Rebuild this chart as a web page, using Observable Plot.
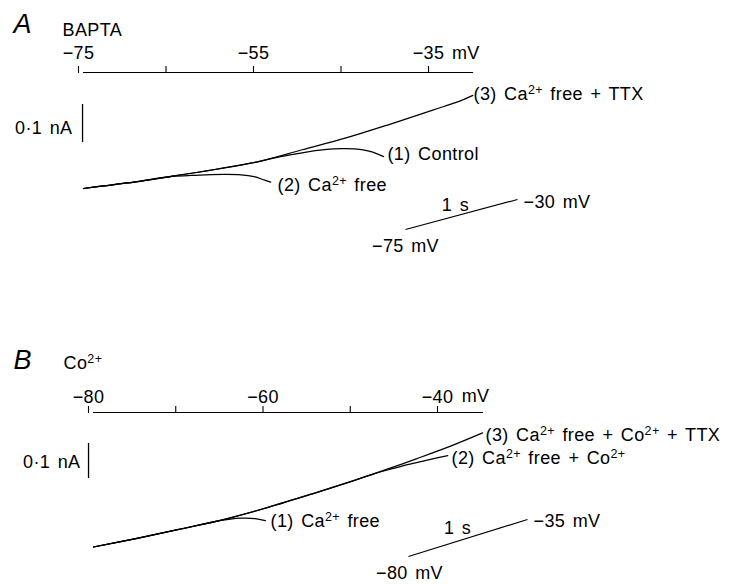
<!DOCTYPE html>
<html><head><meta charset="utf-8">
<script src="https://cdn.jsdelivr.net/npm/d3@7"></script>
<script src="https://cdn.jsdelivr.net/npm/@observablehq/plot@0.6"></script>
<style>
html,body{margin:0;padding:0;background:#fff;}
#wrap{position:relative;width:735px;height:585px;overflow:hidden;background:#fff;}
#wrap svg{position:absolute;left:0;overflow:visible;}
</style></head><body><div id="wrap"></div>
<script>
// ---------- Panel A (BAPTA) ----------
const ticksA = [-75, -65, -55, -45, -35];
const tickLabelsA = ["−75", "", "−55", "", "−35"];
// trace (3) Ca2+ free + TTX
const a3V = [-75, -70, -65, -60, -55, -50, -45, -40, -35, -32, -30.5];
const a3I = [0, 0.0145, 0.0316, 0.050, 0.071, 0.102, 0.133, 0.169, 0.207, 0.230, 0.245];
// trace (1) Control
const a1V = [-75, -70, -65, -60, -55, -52.5, -50, -47.5, -45.5, -44, -42.5, -41.5, -40.7];
const a1I = [0, 0.0145, 0.0316, 0.050, 0.071, 0.084, 0.094, 0.102, 0.105, 0.104, 0.099, 0.092, 0.084];
// trace (2) Ca2+ free
const a2V = [-75, -70, -65, -63, -61, -59, -57, -55.5, -54.3, -53.6];
const a2I = [0, 0.0145, 0.0316, 0.034, 0.036, 0.037, 0.036, 0.031, 0.022, 0.017];
const labelsA = ["(3) Ca{2+} free + TTX", "(1) Control", "(2) Ca{2+} free"];
const labelVA = [-30.43, -40.26, -52.83];
const labelIA = [0.2316, 0.0737, -0.0053];

// ---------- Panel B (Co2+) ----------
const ticksB = [-80, -70, -60, -50, -40];
const tickLabelsB = ["−80", "", "−60", "", "−40"];
// trace (3) Ca2+ free + Co2+ + TTX
const b3V = [-80, -75, -70, -65, -60, -55, -50, -46, -43, -39, -35.4];
const b3I = [0, 0.024, 0.050, 0.077, 0.110, 0.147, 0.186, 0.219, 0.245, 0.281, 0.317];
// trace (2) Ca2+ free + Co2+
const b2V = [-80, -75, -70, -65, -60, -55, -50, -48, -46, -44, -42, -40.5, -39.4];
const b2I = [0, 0.024, 0.050, 0.077, 0.110, 0.147, 0.186, 0.202, 0.216, 0.229, 0.240, 0.248, 0.254];
// trace (1) Ca2+ free
const b1V = [-80, -75, -70, -66, -64.5, -63, -61.5, -60.3];
const b1I = [0, 0.024, 0.050, 0.071, 0.077, 0.080, 0.079, 0.073];
const labelsB = ["(3) Ca{2+} free + Co{2+} + TTX", "(2) Ca{2+} free + Co{2+}", "(1) Ca{2+} free"];
const labelVB = [-35.07, -38.97, -59.71];
const labelIB = [0.2958, 0.2319, 0.0542];

// ---------- annotations (data units of each panel) ----------
const headA = {letter: "A", letterV: -83.0, letterI: 0.408, cond: "BAPTA", condV: -77.4, condI: 0.4026, unitV: -32.9, unitI: 0.342};
const headB = {letter: "B", letterV: -89.17, letterI: 0.4931, cond: "Co{2+}", condV: -83.44, condI: 0.4931, unitV: -37.8, unitI: 0.4014};
const barA = {v: -75.11, i1: 0.121, i2: 0.221, label: "0·1 nA", labelV: -76.26, labelI: 0.1447};
const barB = {v: -80.57, i1: 0.190, i2: 0.2875, label: "0·1 nA", labelV: -81.49, labelI: 0.2208};
const rampA = {v1: -38.2, i1: -0.1079, v2: -25.4, i2: -0.0289,
  texts: ["1 s", "−30 mV", "−75 mV"], textV: [-32.49, -24.71, -38.2], textI: [-0.0579, -0.0526, -0.1684], anchors: ["middle", "start", "middle"]};
const rampB = {v1: -43.9, i1: -0.0264, v2: -30.26, i2: 0.0764,
  texts: ["1 s", "−35 mV", "−80 mV"], textV: [-38.28, -29.57, -43.78], textI: [0.0375, 0.0542, -0.0875], anchors: ["middle", "start", "middle"]};

function rows(name, V, I) { return V.map((v, k) => ({trace: name, v, i: I[k]})); }

function superscripts(svg) {
  svg.querySelectorAll("text").forEach(t => {
    const s = t.textContent;
    if (!s.includes("{")) return;
    while (t.firstChild) t.removeChild(t.firstChild);
    const parts = s.split(/\{([^}]*)\}/);
    let shifted = false;
    parts.forEach((p, k) => {
      if (!p) return;
      const ts = document.createElementNS("http://www.w3.org/2000/svg", "tspan");
      ts.textContent = p;
      if (k % 2 === 1) {
        ts.setAttribute("dy", "-6px");
        ts.setAttribute("font-size", "12.5px");
        shifted = true;
      } else if (shifted) {
        ts.setAttribute("dy", "6px");
        shifted = false;
      }
      t.appendChild(ts);
    });
  });
}

function panel(cfg) {
  const data = cfg.traces.flat();
  const svg = Plot.plot({
    width: 735, height: cfg.height,
    marginTop: 72, marginLeft: cfg.xRange[0], marginRight: 735 - cfg.frameRight, marginBottom: 0,
    x: {domain: cfg.xDomain, range: cfg.xRange},
    y: {domain: [0, 0.1], range: cfg.yRange, axis: null},
    style: {fontFamily: "'Liberation Sans', Arial, sans-serif", fontSize: "18px", color: "black", background: "transparent", letterSpacing: "0.4px", wordSpacing: "2px"},
    marks: [
      Plot.frame({anchor: "top", stroke: "black", strokeWidth: 1.1}),
      Plot.axisX({anchor: "top", ticks: cfg.ticks, tickSize: 7, tickPadding: cfg.tickPadding, dx: -5,
        tickFormat: d => cfg.tickLabels[cfg.ticks.indexOf(d)], fontSize: 18, strokeWidth: 1.1}),
      Plot.text(["mV"], {x: [cfg.head.unitV], y: [cfg.head.unitI], textAnchor: "start", lineAnchor: "bottom"}),
      Plot.text([cfg.head.letter], {x: [cfg.head.letterV], y: [cfg.head.letterI], textAnchor: "start", lineAnchor: "bottom", fontSize: 27, fontStyle: "italic"}),
      Plot.text([cfg.head.cond], {x: [cfg.head.condV], y: [cfg.head.condI], textAnchor: "start", lineAnchor: "bottom"}),
      Plot.line(data, {x: "v", y: "i", z: "trace", stroke: "black", strokeWidth: 1.25, curve: "catmull-rom"}),
      Plot.text(cfg.labels, {x: cfg.labelV, y: cfg.labelI, textAnchor: "start", lineAnchor: "bottom"}),
      Plot.ruleX([cfg.bar], {x: "v", y1: "i1", y2: "i2", stroke: "black", strokeWidth: 1.3}),
      Plot.text([cfg.bar], {x: "labelV", y: "labelI", text: "label", textAnchor: "end", lineAnchor: "bottom"}),
      Plot.link([cfg.ramp], {x1: "v1", y1: "i1", x2: "v2", y2: "i2", stroke: "black", strokeWidth: 1.2}),
      Plot.text(cfg.ramp.texts, {x: cfg.ramp.textV, y: cfg.ramp.textI, textAnchor: "middle", lineAnchor: "bottom", filter: (d, k) => cfg.ramp.anchors[k] === "middle"}),
      Plot.text(cfg.ramp.texts, {x: cfg.ramp.textV, y: cfg.ramp.textI, textAnchor: "start", lineAnchor: "bottom", filter: (d, k) => cfg.ramp.anchors[k] === "start"})
    ]
  });
  superscripts(svg);
  svg.style.top = cfg.top + "px";
  return svg;
}

const wrap = document.getElementById("wrap");
wrap.appendChild(panel({
  top: 0, height: 300, xDomain: [-75, -35], xRange: [83, 433], frameRight: 472, yRange: [188, 150],
  ticks: ticksA, tickLabels: tickLabelsA, tickPadding: 7, head: headA,
  traces: [rows("3", a3V, a3I), rows("1", a1V, a1I), rows("2", a2V, a2I)],
  labels: labelsA, labelV: labelVA, labelI: labelIA, bar: barA, ramp: rampA
}));
wrap.appendChild(panel({
  top: 340, height: 245, xDomain: [-80, -40], xRange: [93, 442], frameRight: 482, yRange: [206.5, 170.5],
  ticks: ticksB, tickLabels: tickLabelsB, tickPadding: 3, head: headB,
  traces: [rows("3", b3V, b3I), rows("2", b2V, b2I), rows("1", b1V, b1I)],
  labels: labelsB, labelV: labelVB, labelI: labelIB, bar: barB, ramp: rampB
}));
</script></body></html>
